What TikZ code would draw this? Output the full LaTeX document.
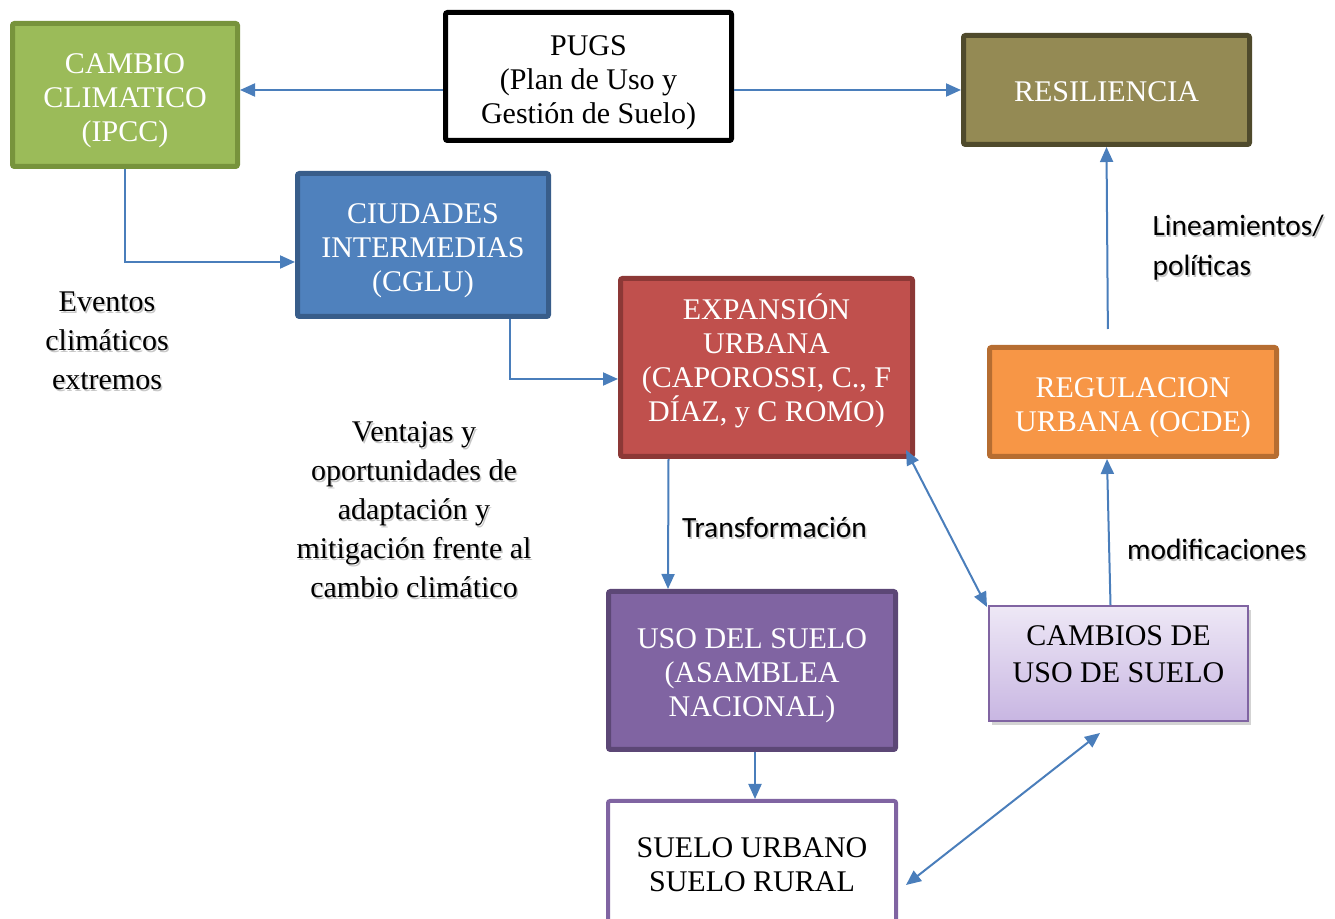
\documentclass[tikz,border=0pt]{standalone}
\usepackage{fontspec}
\setmainfont{Liberation Serif}
\newfontfamily\calibri{Carlito}
\usetikzlibrary{arrows.meta,shadows}

\definecolor{verdeF}{HTML}{9BBB59}\definecolor{verdeB}{HTML}{77933C}
\definecolor{azulF}{HTML}{4F81BD}\definecolor{azulB}{HTML}{385D8A}
\definecolor{rojoF}{HTML}{C0504D}\definecolor{rojoB}{HTML}{8C3836}
\definecolor{olivaF}{HTML}{948A54}\definecolor{olivaB}{HTML}{4F4A2C}
\definecolor{naranjaF}{HTML}{F79646}\definecolor{naranjaB}{HTML}{B66D31}
\definecolor{moradoF}{HTML}{8064A2}\definecolor{moradoB}{HTML}{5C4776}
\definecolor{lilaA}{HTML}{EEE8F6}\definecolor{lilaB}{HTML}{C8B6E2}
\definecolor{flechaazul}{HTML}{4A7EBB}

\tikzset{
  caja/.style={draw, line width=2.5pt, rounded corners=1pt, inner sep=0pt},
  texto/.style={align=center, text=white, font=\fontsize{15}{17}\selectfont},
  flecha/.style={-{Triangle[length=7.5pt,width=6.5pt]}, draw=flechaazul, line width=1pt},
  dflecha/.style={{Triangle[length=7.5pt,width=6.5pt]}-{Triangle[length=7.5pt,width=6.5pt]},
    draw=flechaazul, line width=1pt},
  nota/.style={align=center, font=\fontsize{15}{19.5}\selectfont},
  notasans/.style={align=left, anchor=west, font=\calibri\fontsize{14.7}{20}\selectfont},
  sombra/.style={text=black, text opacity=0.22}
}

\begin{document}
\begin{tikzpicture}[x=0.5pt, y=-0.5pt]
\clip (0,0) rectangle (1335,919);
\useasboundingbox (0,0) rectangle (1335,919);

% cajas
\node[caja, fill=verdeF, draw=verdeB, minimum width=112.5pt, minimum height=71.5pt,
  label={[texto, yshift=-3pt]center:{CAMBIO\\CLIMATICO\\(IPCC)}}]
  (cambio) at (125,95) {};
\node[caja, fill=white, draw=black, minimum width=143pt, minimum height=64pt,
  label={[texto, text=black, yshift=-3pt]center:{PUGS\\(Plan de Uso y\\Gesti\'on de Suelo)}}]
  (pugs) at (588.5,76.5) {};
\node[caja, fill=olivaF, draw=olivaB, minimum width=143pt, minimum height=54.5pt,
  label={[texto, yshift=-1pt]center:RESILIENCIA}]
  (resil) at (1106.5,90) {};
\node[caja, fill=azulF, draw=azulB, minimum width=125.5pt, minimum height=71.5pt,
  label={[texto, yshift=-3pt]center:{CIUDADES\\INTERMEDIAS\\(CGLU)}}]
  (ciudades) at (423,245) {};
\node[caja, fill=rojoF, draw=rojoB, minimum width=146pt, minimum height=89pt,
  label={[texto, yshift=3.5pt]center:{EXPANSI\'ON\\URBANA\\(CAPOROSSI, C., F\\D\'IAZ, y C ROMO)}}]
  (expansion) at (766.5,367.5) {};
\node[caja, fill=naranjaF, draw=naranjaB, minimum width=143.5pt, minimum height=54.5pt,
  label={[texto, yshift=-3pt]center:{REGULACION\\URBANA (OCDE)}}]
  (regul) at (1133,402) {};
\node[caja, fill=moradoF, draw=moradoB, minimum width=143.5pt, minimum height=79pt,
  label={[texto, yshift=-2.5pt]center:{USO DEL SUELO\\(ASAMBLEA\\NACIONAL)}}]
  (uso) at (752,670.5) {};
\node[caja, line width=1pt, draw=moradoF, top color=lilaA, bottom color=lilaB,
  rounded corners=0pt, minimum width=129.5pt, minimum height=57.5pt,
  drop shadow={opacity=0.35, shadow xshift=1.5pt, shadow yshift=-2pt},
  label={[texto, text=black, font=\fontsize{15}{18.5}\selectfont, yshift=4.5pt]center:{CAMBIOS DE\\USO DE SUELO}}]
  (cambios) at (1118.5,663.5) {};
\node[caja, line width=2pt, fill=white, draw=moradoF, minimum width=144pt, minimum height=69pt,
  label={[texto, text=black, yshift=2.5pt]center:{SUELO URBANO\\SUELO RURAL}}]
  (suelo) at (752,870) {};

% conectores
\draw[flecha] (pugs.west |- 0,90) -- (cambio.east |- 0,90);
\draw[flecha] (pugs.east |- resil.west) -- (resil.west);
\draw[flecha] (cambio.south) |- (ciudades.west |- 0,262);
\draw[flecha] ([xshift=43.5pt]ciudades.south) |- (expansion.west |- 0,379);
\draw[flecha] ([xshift=-49pt]expansion.south) -- ([xshift=-42pt]uso.north);
\draw[flecha] ([xshift=1.5pt]uso.south) -- ([xshift=1.5pt]suelo.north);
\draw[dflecha] ([xshift=-4.5pt,yshift=4.5pt]expansion.south east) -- ([xshift=-0.5pt,yshift=-1pt]cambios.north west);
\draw[flecha] ([xshift=-4pt]cambios.north) -- ([xshift=-13pt]regul.south);
\draw[flecha, shorten <=8pt] ([xshift=-12.5pt]regul.north) -- (resil.south);
\coordinate (bajoCambios) at (1100,733);
\draw[dflecha] (bajoCambios) -- ([xshift=4pt,yshift=-7.5pt]suelo.east);

% textos
\begin{scope}[nota]
\node[sombra] at (108.5,343) {Eventos\\clim\'aticos\\extremos};
\node (eventos) at (107,341) {Eventos\\clim\'aticos\\extremos};
\node[sombra] at (415.5,511.5) {Ventajas y\\oportunidades de\\adaptaci\'on y\\mitigaci\'on frente al\\cambio clim\'atico};
\node (ventajas) at (414,509.5) {Ventajas y\\oportunidades de\\adaptaci\'on y\\mitigaci\'on frente al\\cambio clim\'atico};
\end{scope}
\begin{scope}[notasans]
\node[sombra] at (1147,250) {Lineamientos/\\pol\'iticas};
\node (lineam) at (1145.5,248) {Lineamientos/\\pol\'iticas};
\node[sombra] at (676.5,529) {Transformaci\'on};
\node (transf) at (675,527) {Transformaci\'on};
\node[sombra] at (1121.5,551) {modificaciones};
\node (modif) at (1120,549) {modificaciones};
\end{scope}

\end{tikzpicture}
\end{document}
